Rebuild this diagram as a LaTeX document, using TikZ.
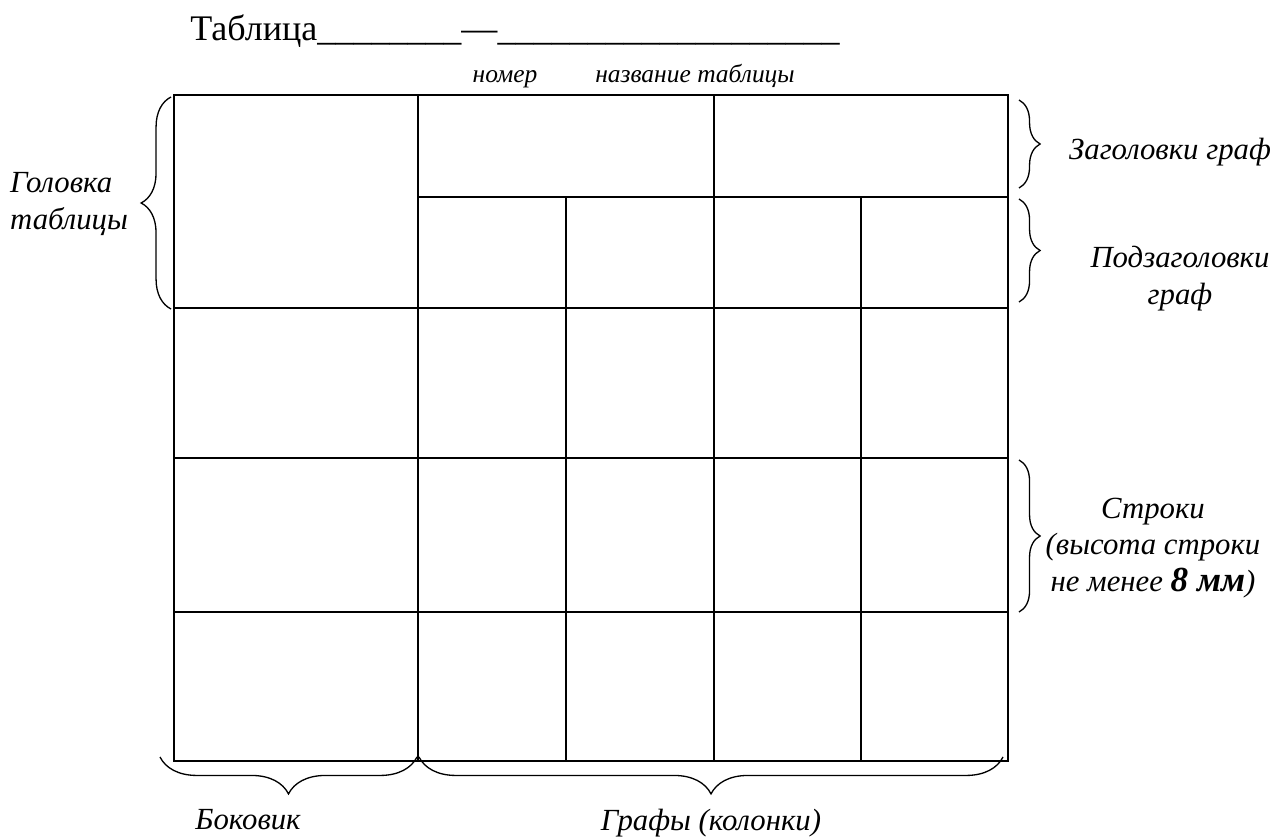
\documentclass[tikz,border=0pt]{standalone}
\usepackage{fontspec}
\setmainfont{Liberation Serif}
\usetikzlibrary{decorations.pathreplacing}
\tikzset{
    cell/.style={line width=1.2pt},
    brc/.style={decorate,decoration={brace,amplitude=#1},line width=0.75pt},
    lbl/.style={font=\itshape\fontsize{17.5}{21}\selectfont,align=center},
    sublbl/.style={font=\itshape\fontsize{14.5}{17}\selectfont,anchor=base}
}
\begin{document}
\begin{tikzpicture}[x=0.02cm,y=-0.02cm]
        \useasboundingbox (0,0) rectangle (1277,837);
        \node[anchor=base west,inner sep=0,font=\fontsize{20.5}{24}\selectfont] (title) at (190,41)
            {Таблица\_\_\_\_\_\_\_\_—\_\_\_\_\_\_\_\_\_\_\_\_\_\_\_\_\_\_\_};
        \node[sublbl] (nomer) at (505,83) {номер};
        \node[sublbl] (nazv) at (695,83) {название таблицы};
        \draw[cell] (174,95) rectangle (1008,761);
        \draw[cell] (418,95) -- (418,761);
        \draw[cell] (714,95) -- (714,761);
        \draw[cell] (418,197) -- (1008,197);
        \foreach \x in {566,861}
            \draw[cell] (\x,197) -- (\x,761);
        \foreach \y in {308,458,612}
            \draw[cell] (174,\y) -- (1008,\y);
        \draw[brc=17pt] (171,309) -- (171,97);
        \draw[brc=12pt] (1019,100) -- (1019,188);
        \draw[brc=12pt] (1019,199) -- (1019,302);
        \draw[brc=12pt] (1019,460) -- (1019,612);
        \draw[brc=21pt] (417,757) -- (160,757);
        \draw[brc=21pt] (1003,757) -- (419,757);
        \node[lbl,anchor=west,align=left] (golovka) at (4,204) {Головка\\таблицы};
        \node[lbl] (zag) at (1170,152) {Заголовки граф};
        \node[lbl] (podzag) at (1180,279) {Подзаголовки\\граф};
        \node[lbl] (stroki) at (1153,548) {Строки\\(высота строки\\не менее {\fontsize{20}{21}\selectfont\bfseries 8 мм})};
        \node[lbl] (bokovik) at (248,820) {Боковик};
        \node[lbl] (grafy) at (711,823) {Графы (колонки)};
\end{tikzpicture}
\end{document}
